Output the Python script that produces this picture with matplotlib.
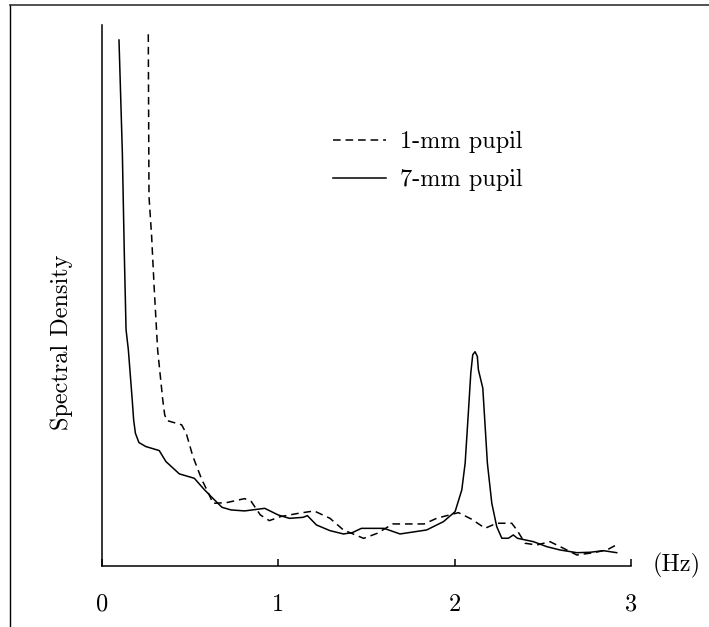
import matplotlib
matplotlib.use("Agg")
import matplotlib.pyplot as plt
from matplotlib.lines import Line2D

# Spectral density traces (arbitrary units)
x_7mm = [0.098, 0.117, 0.128, 0.138, 0.151, 0.173, 0.181, 0.191, 0.211, 0.25,
         0.326, 0.364, 0.44, 0.479, 0.525, 0.58, 0.63, 0.682, 0.733, 0.81,
         0.924, 1.0, 1.064, 1.141, 1.166, 1.217, 1.294, 1.37, 1.42, 1.472,
         1.6, 1.691, 1.842, 1.937, 2.003, 2.041, 2.06, 2.078, 2.092, 2.103,
         2.116, 2.129, 2.135, 2.16, 2.186, 2.211, 2.239, 2.268, 2.305, 2.333,
         2.356, 2.447, 2.523, 2.598, 2.693, 2.768, 2.844, 2.919]
y_7mm = [525, 412.7, 312.7, 235.7, 215.7, 165.7, 145.7, 132.3, 123, 119,
         115, 104, 91.7, 89.7, 87.3, 76.3, 67.3, 58.3, 55.7, 54.7,
         57.3, 50.7, 47.3, 48.3, 50, 40.7, 35, 31.7, 33, 37.3,
         37.3, 31.7, 35.7, 44, 54, 75.7, 102.4, 152.4, 192.4, 210.7,
         213.7, 209, 195.7, 177.4, 102.4, 62.4, 39, 27.4, 27.4, 30.7,
         27.4, 24, 19, 15.7, 13, 13.4, 15, 13]

x_1mm = [0.264, 0.268, 0.283, 0.297, 0.317, 0.346, 0.357, 0.369, 0.453, 0.479,
         0.517, 0.568, 0.601, 0.631, 0.708, 0.81, 0.848, 0.899, 0.95, 1.013,
         1.115, 1.204, 1.294, 1.37, 1.485, 1.561, 1.65, 1.828, 1.899, 2.022,
         2.097, 2.173, 2.239, 2.324, 2.353, 2.4, 2.466, 2.541, 2.617, 2.693,
         2.787, 2.863, 2.916]
y_1mm = [530.7, 369, 329, 279, 215.7, 165.7, 150.7, 145, 140.7, 132.3,
         109, 85.7, 74, 62.3, 63, 67, 64, 50.7, 45, 49,
         52.3, 54.7, 47.3, 35.7, 27.3, 32.3, 41.7, 41.7, 47.4, 53,
         46.4, 37.4, 42.4, 42.4, 35.7, 22.4, 20.7, 24, 17.4, 10.7,
         13, 15.7, 20.7]

xticks = [0, 1, 2, 3]
xtick_labels = ['0', '1', '2', '3']

plt.rcParams['font.family'] = ['cmr10', 'DejaVu Serif']
plt.rcParams['axes.formatter.use_mathtext'] = True
fs = 17.5

W, H = 709, 627
fig = plt.figure(figsize=(W / 100, H / 100), dpi=100)
ax = fig.add_axes([101.7 / W, 1 - 565.7 / H, (631 - 101.7) / W, (565.7 - 25) / H])

dashed, = ax.plot(x_1mm, y_1mm, color='black', lw=1.1, dashes=(5, 3.2))
solid, = ax.plot(x_7mm, y_7mm, color='black', lw=1.1)

ax.set_xlim(0, 3)
ax.set_ylim(0, 540)
ax.spines['top'].set_visible(False)
ax.spines['right'].set_visible(False)
ax.spines['left'].set_linewidth(1.1)
ax.spines['bottom'].set_linewidth(1.1)
ax.set_yticks([])
ax.set_xticks(xticks)
ax.set_xticklabels(xtick_labels, fontsize=fs)
ax.tick_params(axis='x', direction='in', length=5, width=1.1, pad=20)

ax.text(3.26, 0, '(Hz)', fontsize=fs, ha='center', va='center', clip_on=False)
fig.text(62 / W, 1 - 342 / H, 'Spectral Density', fontsize=fs, rotation=90,
         ha='center', va='center')

ax.legend([dashed, solid], ['1-mm pupil', '7-mm pupil'], loc='upper left',
          bbox_to_anchor=(333 / W, 1 - 131 / H), bbox_transform=fig.transFigure,
          frameon=False, fontsize=fs, handlelength=2.2, handletextpad=0.55,
          labelspacing=0.65, borderpad=0, borderaxespad=0)

# outer frame of the original figure
fig.add_artist(Line2D([10 / W, 10 / W], [0, 1 - 5 / H], transform=fig.transFigure,
                      color='black', lw=1.0))
fig.add_artist(Line2D([10 / W, 1], [1 - 5 / H, 1 - 5 / H], transform=fig.transFigure,
                      color='#333333', lw=1.2))

fig.savefig('out.png', dpi=100)
